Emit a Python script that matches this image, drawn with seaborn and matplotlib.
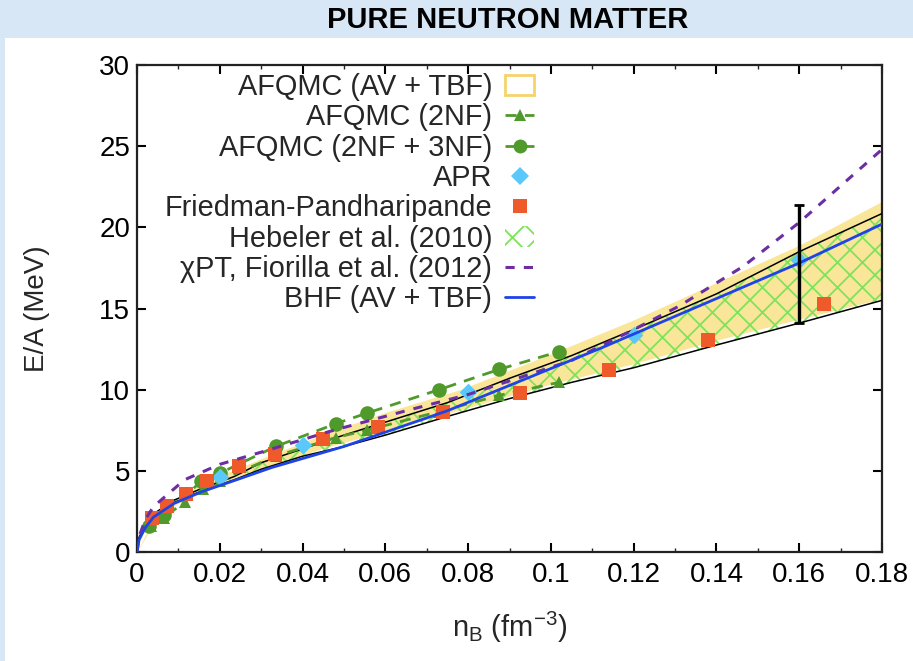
import matplotlib
matplotlib.use("Agg")
import matplotlib.pyplot as plt
import seaborn as sns
import numpy as np
from matplotlib.patches import Patch, Rectangle
from matplotlib.lines import Line2D
from matplotlib.backend_bases import GraphicsContextBase

# ---- data ----
# AFQMC (AV + TBF) band
band_x = [0, 0.005, 0.01, 0.02, 0.03, 0.045, 0.06, 0.078, 0.1, 0.12, 0.14, 0.16, 0.18]
band_hi = [0, 2.6, 3.4, 4.7, 5.75, 7.25, 8.6, 10.0, 12.2, 14.3, 16.6, 18.9, 21.6]
band_lo = [0, 2.2, 3.0, 4.1, 5.1, 6.4, 7.45, 8.75, 10.35, 11.6, 13.05, 14.35, 15.6]

# Hebeler et al. (2010) band edges
heb_x = [0, 0.0005, 0.002, 0.004, 0.009, 0.0155, 0.0235, 0.03, 0.04, 0.05, 0.06, 0.075,
         0.09, 0.105, 0.12, 0.14, 0.16, 0.18]
heb_hi = [0, 0.9, 1.7, 2.35, 3.2, 3.9, 4.65, 5.5, 6.35, 7.2, 8.0, 9.2,
          10.7, 12.1, 13.7, 15.9, 18.5, 20.85]
heb_lo = [0, 0.8, 1.55, 2.2, 3.05, 3.75, 4.45, 5.1, 5.9, 6.5, 7.2, 8.35,
          9.45, 10.45, 11.35, 12.75, 14.1, 15.5]

# AFQMC (2NF)
nf2_x = [0.0035, 0.0065, 0.0115, 0.016, 0.02, 0.0335, 0.048, 0.0555, 0.073, 0.0875, 0.102]
nf2_y = [1.6, 2.1, 3.1, 3.9, 4.4, 5.9, 7.05, 7.5, 8.65, 9.65, 10.45]

# AFQMC (2NF + 3NF)
nf3_x = [0.003, 0.0065, 0.0155, 0.02, 0.0335, 0.048, 0.0555, 0.073, 0.0875, 0.102]
nf3_y = [1.6, 2.25, 4.35, 4.85, 6.5, 7.9, 8.55, 10.0, 11.25, 12.35]

# APR
apr_x = [0.02, 0.04, 0.08, 0.12, 0.16]
apr_y = [4.65, 6.6, 9.85, 13.35, 18.0]

# Friedman-Pandharipande
fp_x = [0.0037, 0.0073, 0.0118, 0.017, 0.0246, 0.0333, 0.045, 0.0583, 0.074, 0.0925,
        0.114, 0.138, 0.166]
fp_y = [2.1, 2.85, 3.55, 4.4, 5.3, 6.05, 6.95, 7.7, 8.6, 9.8, 11.2, 13.05, 15.3]

# chiPT, Fiorilla et al. (2012)
chi_x = [0, 0.0005, 0.002, 0.004, 0.0115, 0.02, 0.03, 0.0475, 0.065, 0.08, 0.105, 0.12,
         0.131, 0.1465, 0.16, 0.18]
chi_y = [0, 0.95, 2.0, 2.8, 4.45, 5.4, 6.15, 7.5, 8.7, 9.7, 11.8, 13.7,
         15.15, 17.6, 20.3, 24.8]

# BHF (AV + TBF)
bhf_x = [0, 0.0005, 0.002, 0.004, 0.009, 0.0155, 0.0235, 0.0325, 0.05, 0.075, 0.112, 0.16, 0.18]
bhf_y = [0, 0.75, 1.5, 2.15, 3.0, 3.7, 4.4, 5.2, 6.5, 8.7, 12.55, 17.8, 20.2]

# error bar at saturation density
err_x = [0.16]
err_y = [17.75]
err_d = [3.65]

xticks = [0, 0.02, 0.04, 0.06, 0.08, 0.1, 0.12, 0.14, 0.16, 0.18]
xticklabels = ["0", "0.02", "0.04", "0.06", "0.08", "0.1", "0.12", "0.14", "0.16", "0.18"]
yticks = [0, 5, 10, 15, 20, 25, 30]

labels = ["AFQMC (AV + TBF)", "AFQMC (2NF)", "AFQMC (2NF + 3NF)", "APR",
          "Friedman-Pandharipande", "Hebeler et al. (2010)",
          "\u03c7PT, Fiorilla et al. (2012)", "BHF (AV + TBF)"]

# ---- colours ----
c_yellow = "#fae699"
c_yedge = "#f6d46a"
c_green = "#4f9a2b"
c_hatch = "#7fe25c"
c_apr = "#5ac8fa"
c_fp = "#ee5a2a"
c_chi = "#6b2fa3"
c_bhf = "#1f43e6"

# slightly coarser cross-hatch than 'xx', finer than 'x'
_orig_hatch_path = GraphicsContextBase.get_hatch_path
GraphicsContextBase.get_hatch_path = lambda self, density=8.5: _orig_hatch_path(self, density)

sns.set_theme(style="ticks")
plt.rcParams["font.family"] = ["Liberation Sans", "DejaVu Sans"]
plt.rcParams["hatch.linewidth"] = 1.3
plt.rcParams["mathtext.fontset"] = "custom"
plt.rcParams["mathtext.rm"] = "Liberation Sans"

fig = plt.figure(figsize=(9.13, 6.61), dpi=100)
fig.patch.set_facecolor("#d8e7f5")
fig.patches.append(Rectangle((5 / 913, 0), 1, 1 - 38 / 661, transform=fig.transFigure,
                             facecolor="white", edgecolor="none", zorder=-5))

fig.text(508 / 913, 1 - 20 / 661, "PURE NEUTRON MATTER", ha="center", va="center",
         fontsize=21, fontweight="bold", color="black")

ax = fig.add_axes([137 / 913, 1 - 552 / 661, (882 - 137) / 913, (552 - 65) / 661])
ax.set_facecolor("white")

ax.fill_between(band_x, band_lo, band_hi, color=c_yellow, linewidth=0, zorder=1)
ax.fill_between(heb_x, heb_lo, heb_hi, facecolor="none", edgecolor=c_hatch, hatch="x",
                linewidth=0, zorder=2)

sns.lineplot(x=heb_x, y=heb_hi, ax=ax, color="black", lw=1.1, zorder=3, estimator=None)
sns.lineplot(x=heb_x, y=heb_lo, ax=ax, color="black", lw=1.1, zorder=3, estimator=None)

sns.lineplot(x=nf2_x, y=nf2_y, ax=ax, color=c_green, lw=2, linestyle=(0, (4, 3)),
             marker="^", markersize=8, markeredgewidth=0, zorder=4, estimator=None)
sns.lineplot(x=nf3_x, y=nf3_y, ax=ax, color=c_green, lw=2, linestyle=(0, (4, 3)),
             marker="o", markersize=10.5, markeredgewidth=0, zorder=4, estimator=None)

sns.scatterplot(x=apr_x, y=apr_y, ax=ax, color=c_apr, marker="D", s=80, linewidth=0, zorder=5)
sns.scatterplot(x=fp_x, y=fp_y, ax=ax, color=c_fp, marker="s", s=110, linewidth=0, zorder=5)

sns.lineplot(x=chi_x, y=chi_y, ax=ax, color=c_chi, lw=2.2, linestyle=(0, (3, 3)),
             zorder=6, estimator=None)
sns.lineplot(x=bhf_x, y=bhf_y, ax=ax, color=c_bhf, lw=2, zorder=6, estimator=None)

ax.errorbar(err_x, err_y, yerr=err_d, fmt="none", ecolor="black", elinewidth=2.4,
            capsize=3.3, capthick=2, zorder=7)

ax.set_xlim(0, 0.18)
ax.set_ylim(0, 30)
ax.set_xticks(xticks)
ax.set_xticklabels(xticklabels)
ax.set_yticks(yticks)
ax.set_xticks(np.arange(0.01, 0.18, 0.02), minor=True)
ax.tick_params(axis="both", which="major", direction="in", length=6.5, width=1.5,
               top=True, right=True, labelsize=20, colors="black")
ax.tick_params(axis="x", which="minor", direction="in", length=3, width=1,
               top=True, bottom=True)
ax.tick_params(axis="x", which="major", pad=7)
ax.tick_params(axis="y", which="major", pad=5)
for s in ax.spines.values():
    s.set_linewidth(1.6)
    s.set_color("#222222")
    s.set_visible(True)

ax.set_xlabel(r"n$_\mathregular{B}$ (fm$^\mathregular{-3}$)", fontsize=21, labelpad=16)
ax.set_ylabel("E/A (MeV)", fontsize=20, labelpad=35)

handles = [
    Patch(facecolor="white", edgecolor=c_yedge, linewidth=2),
    Line2D([], [], color=c_green, lw=2, linestyle=(0, (4, 3)), marker="^", markersize=8,
           markeredgewidth=0),
    Line2D([], [], color=c_green, lw=2, linestyle=(0, (4, 3)), marker="o", markersize=10,
           markeredgewidth=0),
    Line2D([], [], color=c_apr, lw=0, marker="D", markersize=9, markeredgewidth=0),
    Line2D([], [], color=c_fp, lw=0, marker="s", markersize=10, markeredgewidth=0),
    Patch(facecolor="none", edgecolor=c_hatch, hatch="x", linewidth=0),
    Line2D([], [], color=c_chi, lw=2.2, linestyle=(0, (3, 3))),
    Line2D([], [], color=c_bhf, lw=2),
]
leg = ax.legend(handles, labels, loc="upper right", bbox_to_anchor=(534 / 913, 1 - 73 / 661),
                bbox_transform=fig.transFigure, frameon=False, markerfirst=False,
                fontsize=20.8, labelspacing=0.08, handlelength=1.0, handletextpad=0.45,
                borderpad=0, borderaxespad=0)

fig.savefig("out.png", dpi=100, facecolor=fig.get_facecolor())
